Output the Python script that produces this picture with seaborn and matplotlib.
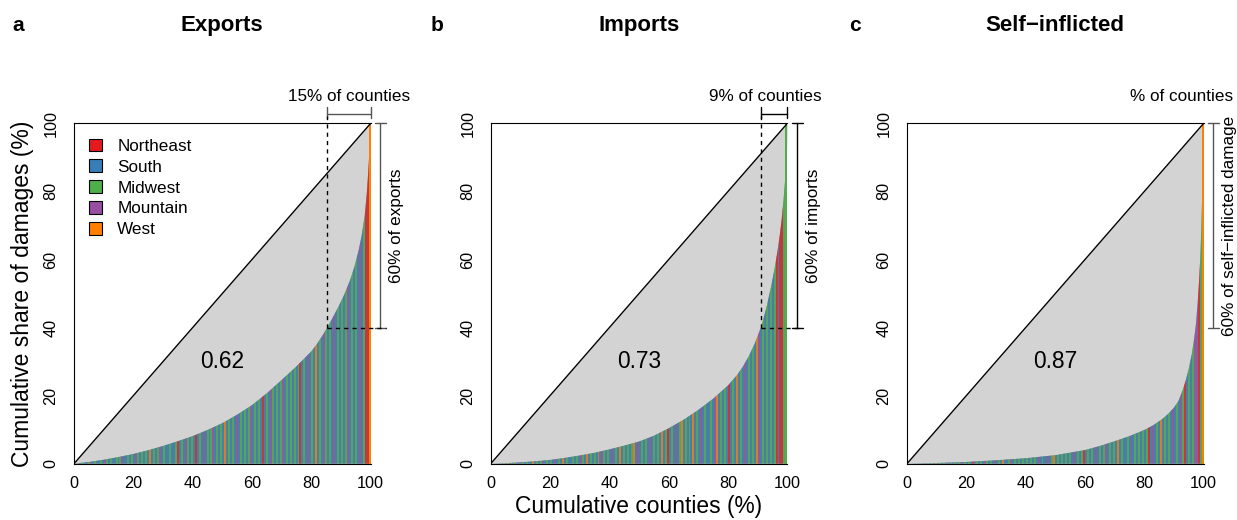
import numpy as np
import matplotlib
matplotlib.use("Agg")
import matplotlib.pyplot as plt
from matplotlib.patches import Polygon, Patch
import seaborn as sns

# ---------------- data ----------------
titles = ["Exports", "Imports", "Self\u2212inflicted"]
panel_letters = ["a", "b", "c"]
gini_labels = ["0.62", "0.73", "0.87"]

region_names = ["Northeast", "South", "Midwest", "Mountain", "West"]
region_codes = ["N", "S", "M", "P", "W"]
region_colors = ["#E41A1C", "#377EB8", "#4DAF4A", "#984EA3", "#FF7F00"]

# Lorenz curves (cumulative counties %, cumulative share of damages %)
exp_x = [0, 5, 10, 15, 20, 25, 30, 35, 40, 45, 50, 55, 60, 65, 70, 75, 80, 82, 84, 85.4,
         87, 89, 91, 93, 94.5, 96, 97, 98, 98.7, 99.2, 99.6, 100]
exp_y = [0, 0.5, 1.15, 1.95, 2.85, 3.95, 5.2, 6.6, 8.1, 9.9, 11.9, 14.4, 17.2, 20.7, 24.6,
         28.6, 33.0, 35.3, 38.0, 40.1, 42.6, 45.9, 49.5, 53.8, 57.8, 62.9, 67.2, 73.0,
         79.5, 86.0, 92.5, 100]

imp_x = [0, 5, 10, 15, 20, 25, 30, 35, 40, 45, 50, 55, 60, 65, 70, 75, 80, 83, 85, 87, 89,
         91.1, 92, 93.1, 94.6, 95.7, 96.7, 97.5, 98.1, 98.7, 99.2, 99.6, 99.85, 100]
imp_y = [0, 0.15, 0.4, 0.7, 1.1, 1.7, 2.4, 3.2, 4.2, 5.3, 6.5, 8.2, 10.4, 12.9, 15.8, 19.1,
         23.0, 26.0, 28.5, 31.6, 35.3, 40.1, 42.8, 46.5, 52.4, 57.4, 62.6, 67.6, 72.0, 77.4,
         83.0, 89.0, 94.0, 100]

self_x = [0, 10, 20, 30, 40, 50, 60, 65, 70, 75, 80, 83, 86, 88, 90, 91.5, 93, 94, 95, 96,
          96.8, 97.4, 98, 98.5, 98.9, 99.2, 99.5, 99.75, 100]
self_y = [0, 0.2, 0.5, 1.0, 1.6, 2.5, 4.0, 5.2, 6.6, 8.1, 9.9, 11.3, 13.1, 14.6, 16.5, 18.4,
          21.8, 24.6, 28.0, 32.2, 36.8, 41.0, 47.5, 54.5, 61.5, 69.0, 79.0, 89.0, 100]

# region of the counties, ordered by damage (coarse stripes)
exp_regions = ("SMPSMSSMPS" "MSSMSPMSMS" "SMSMPSSMSM" "SPMSMSMSWS" "MSMPSMSSMS"
               "SMNSMSPMSM" "SNSMSPSMSM" "PSMSMSWSMS" "MSPSMSMSMP" "SMSMSNSMSP"
               "MSMSMPSMSM" "SMSMNSMSPS" "MSWSMSPMSM" "SPSMSMSMPS" "MSMSPSMNNW")
imp_regions = ("SMSPMSMSWS" "MSMSPSMSMS" "SWSMSMPSMS" "MSPSMSWSMS" "SMSMSPMSWS"
               "MSMSWSPMSM" "SPSMSWSMSM" "SMWSPSMSMS" "PSMSMSWSMN" "SMSPSMWSMS"
               "MSWSMSPSMS" "SMSPWSMSMS" "NSMSWSMSPS" "MSMSWPSMSM" "SMSMNSNNMM")
self_regions = ("SPMSMSMSPS" "MSMSWSMSMS" "PSMSMSMPSM" "SMSNSMSMSP" "MSMSPSMSWS"
                "SMPSMSMSMS" "MSMSMSPSMS" "SPSMWSMSMS" "MSMSPSMSMN" "SMSMSPSMSM"
                "PSMSMSWSMS" "SMSPSMSMSM" "SMNSPSMSWS" "MSMSPSMSPM" "NSMSMPPNMW")

# annotation values
crossing_x = [85.4, 91.1, None]            # x where curve reaches 40 %
cross_level = 40
top_labels = ["15% of counties", "9% of counties", "% of counties"]
side_labels = ["60% of exports", "60% of imports", "60% of self\u2212inflicted damage"]

curves = [(exp_x, exp_y, exp_regions), (imp_x, imp_y, imp_regions), (self_x, self_y, self_regions)]
bracket_colors = ["#555555", "black", "#555555"]

# ---------------- style ----------------
sns.set_style("white")
plt.rcParams["font.family"] = ["Liberation Sans", "DejaVu Sans"]
plt.rcParams["axes.linewidth"] = 0.8
for k in ["text.color", "axes.labelcolor", "xtick.color", "ytick.color", "axes.edgecolor"]:
    plt.rcParams[k] = "black"

W, H = 1237, 520
fig = plt.figure(figsize=(W / 100, H / 100), dpi=100)

lefts_px = [74, 490.7, 907]
ax_w = 296.7 / W
ax_h = 340.4 / H
ax_b = (H - 463.7) / H
code_to_color = dict(zip(region_codes, region_colors))
stripe_base = "#6F8587"   # muted mixture seen under the thin county bars

for i, (cx, cy, regs) in enumerate(curves):
    ax = fig.add_axes([lefts_px[i] / W, ax_b, ax_w, ax_h])
    ax.set_xlim(0, 100)
    ax.set_ylim(0, 100)

    # colored county stripes clipped to the Lorenz curve
    n = len(regs)
    w = 100.0 / n
    lefts = np.arange(n) * w
    cols = [code_to_color[c] for c in regs]
    poly = Polygon(np.column_stack([list(cx) + [100, 0], list(cy) + [0, 0]]),
                   closed=True, transform=ax.transData, facecolor=stripe_base,
                   edgecolor="none", zorder=0.8)
    ax.add_patch(poly)
    bars = ax.bar(lefts[:-1], 100, width=w, align="edge", color=cols[:-1], alpha=0.72,
                  linewidth=0, antialiased=False, zorder=1)
    for b in bars:
        b.set_clip_path(poly)
    ax.bar(lefts[-1:], cy[-1], width=w, align="edge", color=cols[-1:],
           linewidth=0, antialiased=False, zorder=1.5)

    # gray area between diagonal and curve
    ax.fill_between(cx, cy, cx, color="#D3D3D3", linewidth=0, zorder=0.5)

    # equality line
    sns.lineplot(x=[0, 100], y=[0, 100], color="black", linewidth=1.0, ax=ax, zorder=3)

    ax.text(50, 30, gini_labels[i], ha="center", va="center", fontsize=16.4, zorder=4)

    # spines / ticks
    for s in ["left", "bottom", "top"]:
        ax.spines[s].set_visible(True)
        ax.spines[s].set_color("black")
        ax.spines[s].set_linewidth(0.8)
    ax.spines["right"].set_visible(False)
    ticks = [0, 20, 40, 60, 80, 100]
    ax.set_xticks(ticks)
    ax.set_yticks(ticks)
    ax.set_xticklabels([str(t) for t in ticks])
    ax.set_yticklabels([str(t) for t in ticks], rotation=90, va="center")
    ax.tick_params(axis="both", direction="out", length=4.6, width=0.8, labelsize=11.7,
                   color="black", labelcolor="black")
    ax.tick_params(axis="x", pad=4.6)
    ax.tick_params(axis="y", pad=6.5)
    ax.set_xlabel("")
    ax.set_ylabel("")

    bc = bracket_colors[i]
    # dashed guides + top bracket
    if crossing_x[i] is not None:
        xc = crossing_x[i]
        ax.plot([xc, xc], [cross_level, 102], color="black", lw=1.0, ls=(0, (3, 3)),
                clip_on=False, zorder=5)
        ax.plot([xc, 105], [cross_level, cross_level], color="black", lw=1.0, ls=(0, (3, 3)),
                clip_on=False, zorder=5)
        ax.plot([xc, 100], [102.7, 102.7], color=bc, lw=1.0, clip_on=False)
        for xe in [xc, 100]:
            ax.plot([xe, xe], [101.6, 104.8], color=bc, lw=1.0, clip_on=False)
    ax.text(92.6, 106.6, top_labels[i], ha="center", va="baseline", fontsize=12.3,
            clip_on=False)

    # right bracket (top 60 %)
    ax.plot([103.1, 103.1], [cross_level, 100], color=bc, lw=1.0, clip_on=False)
    for ye in [cross_level, 100]:
        ax.plot([101.4, 105.2], [ye, ye], color=bc, lw=1.0, clip_on=False)
    ax.text(108.8, 70, side_labels[i], rotation=90, ha="center", va="center",
            fontsize=12.3, clip_on=False)

    # titles and panel letters
    cx_fig = (lefts_px[i] + 148.3) / W
    fig.text(cx_fig, (H - 31) / H, titles[i], ha="center", va="baseline",
             fontsize=16, fontweight="bold")
    fig.text([12, 431, 849][i] / W, (H - 30.6) / H, panel_letters[i], ha="left",
             va="baseline", fontsize=15, fontweight="bold")

    if i == 0:
        handles = [Patch(facecolor=c, edgecolor="black", linewidth=0.8) for c in region_colors]
        ax.legend(handles, region_names, loc="upper left", bbox_to_anchor=(0.05, 0.955),
                  frameon=False, fontsize=12.3, handlelength=0.78, handleheight=0.78,
                  handletextpad=0.88, labelspacing=0.32, borderpad=0, borderaxespad=0)
    else:
        leg = ax.get_legend()
        if leg is not None:
            leg.remove()

fig.text(22.5 / W, (H - 293.5) / H, "Cumulative share of damages (%)", rotation=90,
         ha="center", va="center", fontsize=16.5)
fig.text(638.8 / W, (H - 513) / H, "Cumulative counties (%)", ha="center",
         va="baseline", fontsize=16.4)

fig.savefig("out.png", dpi=100)
